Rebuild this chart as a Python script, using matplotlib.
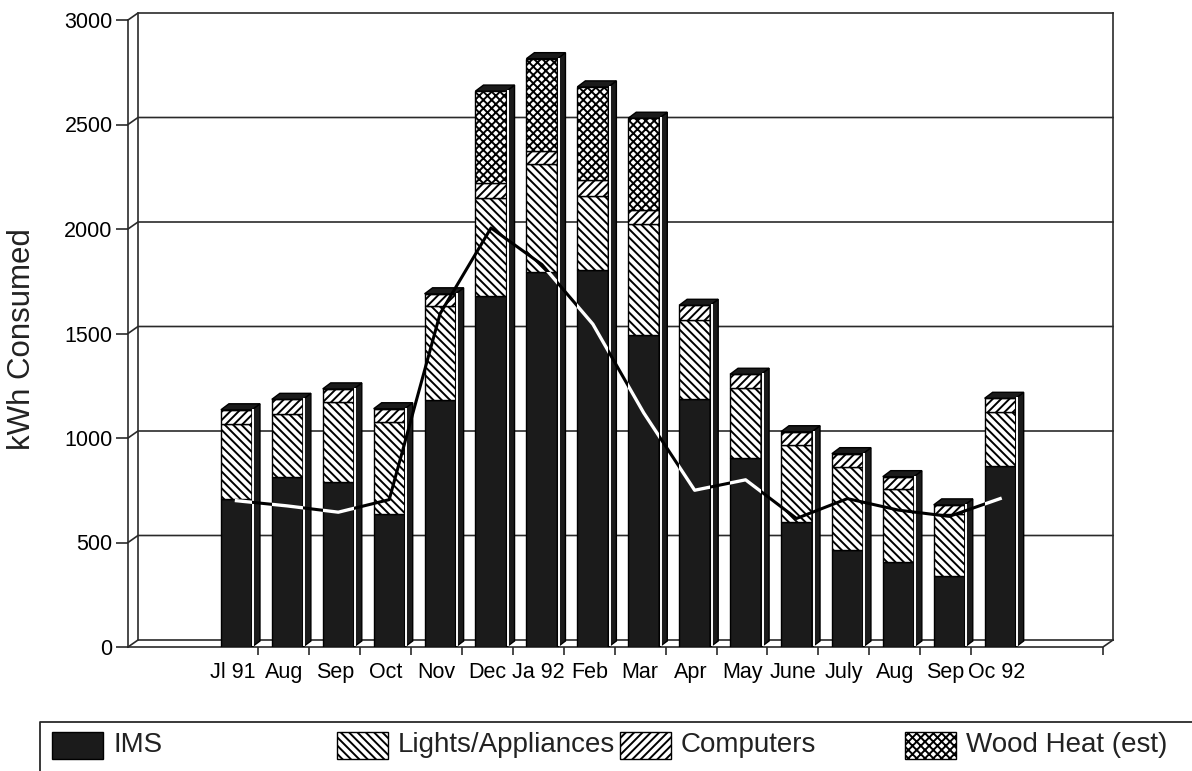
import matplotlib
matplotlib.use('Agg')
import matplotlib.pyplot as plt
from matplotlib.patches import Polygon, Rectangle
import numpy as np

plt.rcParams['font.family'] = ['Liberation Sans', 'DejaVu Sans']
plt.rcParams['hatch.linewidth'] = 1.4

# monthly values (kWh)
months = ['Jl 91', 'Aug', 'Sep', 'Oct', 'Nov', 'Dec', 'Ja 92', 'Feb', 'Mar',
          'Apr', 'May', 'June', 'July', 'Aug', 'Sep', 'Oc 92']
ims = [710, 815, 790, 635, 1180, 1680, 1795, 1805, 1495, 1185, 905, 600, 465, 405, 340, 865]
lights = [355, 300, 380, 440, 450, 470, 515, 355, 530, 380, 335, 365, 395, 350, 295, 260]
computers = [70, 70, 65, 65, 60, 70, 65, 75, 65, 70, 65, 65, 65, 60, 45, 65]
wood = [0, 0, 0, 0, 0, 440, 440, 445, 440, 0, 0, 0, 0, 0, 0, 0]
line_vals = [700, 675, 645, 705, 1595, 2005, 1830, 1545, 1120, 750, 800, 615, 710, 655, 625, 710]

series_names = ['IMS', 'Lights/Appliances', 'Computers', 'Wood Heat (est)']
yticks = [0, 500, 1000, 1500, 2000, 2500, 3000]

W, H = 1192, 771
DARK = '#1b1b1b'
hatches = [None, '\\\\\\\\', '////', 'xxxx']
faces = [DARK, 'white', 'white', 'white']

fig = plt.figure(figsize=(W / 100, H / 100), dpi=100)
ax = fig.add_axes([128 / W, 1 - 647 / H, 975 / W, 627 / H])
xmin, xmax = -2.06, 17.09
ax.set_xlim(xmin, xmax)
ax.set_ylim(0, 3000)
ax.patch.set_visible(False)
for s in ax.spines.values():
    s.set_visible(False)

# depth of the fake 3d look, from pixels to data units
ux = (xmax - xmin) / 975
uy = 3000 / 627
wdx, wdy = 10 * ux, 7 * uy
bdx, bdy = 8 * ux, 6 * uy

lc = '#2a2a2a'
kw = dict(color=lc, lw=1.2, clip_on=False, zorder=1)
# walls and grid
for v in yticks[1:]:
    ax.plot([xmin, xmin + wdx, xmax + wdx], [v, v + wdy, v + wdy], **kw)
ax.plot([xmin, xmin], [0, 3000], **kw)
ax.plot([xmin + wdx, xmin + wdx], [wdy, 3000 + wdy], **kw)
ax.plot([xmax + wdx, xmax + wdx], [wdy, 3000 + wdy], **kw)
ax.plot([xmin, xmax, xmax + wdx], [0, 0, wdy], **kw)
ax.plot([xmin, xmin + wdx, xmax + wdx], [0, wdy, wdy], **kw)

x = np.arange(len(months)) + 0.07
bw = 0.61
bottom = np.zeros(len(months))
ims_bars = None
for vals, hatch, fc, name in zip([ims, lights, computers, wood], hatches, faces, series_names):
    vals = np.array(vals, dtype=float)
    bars = ax.bar(x, vals, bw, bottom=bottom, color=fc, edgecolor='black',
                  hatch=hatch, linewidth=1.0, zorder=2, label=name)
    if ims_bars is None:
        ims_bars = bars
    bottom = bottom + vals

# side and top faces
for xi, tot in zip(x, bottom):
    xr = xi + bw / 2
    xl = xi - bw / 2
    side = Polygon([(xr, 0), (xr + bdx, bdy), (xr + bdx, tot + bdy), (xr, tot)],
                   closed=True, fc=DARK, ec='black', lw=1.0, zorder=2)
    top = Polygon([(xl, tot), (xl + bdx, tot + bdy), (xr + bdx, tot + bdy), (xr, tot)],
                  closed=True, fc=DARK, ec='black', lw=1.0, zorder=2)
    ax.add_patch(side)
    ax.add_patch(top)
    ax.plot([xr + 1.5 * ux, xr + 1.5 * ux], [2 * uy, tot], color='white', lw=1.4, zorder=2)

# trend line, shown white where it crosses the dark IMS part
ax.plot(x, line_vals, color='black', lw=2.2, zorder=4)
for b in ims_bars:
    ln, = ax.plot(x, line_vals, color='white', lw=2.4, zorder=5)
    ln.set_clip_path(b)

ax.set_yticks(yticks)
ax.tick_params(axis='y', length=9, width=1.2, pad=2, labelsize=15.5, color=lc)
ax.set_xticks(np.arange(len(months)))
ax.set_xticklabels(months)
ax.tick_params(axis='x', which='major', length=0, pad=11, labelsize=15.5)
ax.set_xticks(list(np.arange(len(months) - 1) + 0.5) + [xmax], minor=True)
ax.tick_params(axis='x', which='minor', length=6, width=1.2, color=lc)

fig.text(22 / W, 1 - 339 / H, 'kWh Consumed', rotation=90, fontsize=22.5,
         ha='center', va='center', color='#222222')

# legend box along the bottom
def fx(px):
    return px / W

def fy(py):
    return 1 - py / H

fig.add_artist(plt.Line2D([fx(40), fx(40), fx(1192)], [fy(775), fy(721.5), fy(721.5)],
                          color=lc, lw=1.3))
sw_x = [52, 337, 620, 905]
for sx, hatch, fc, name in zip(sw_x, hatches, faces, series_names):
    fig.add_artist(Rectangle((fx(sx), fy(759)), fx(51), 27 / H, facecolor=fc,
                             edgecolor='black', hatch=hatch, lw=1.0))
    fig.text(fx(sx + 61), fy(745), name, fontsize=20, va='center', ha='left', color='#222222')

fig.savefig('out.png', dpi=100, facecolor='white')
plt.close('all')
